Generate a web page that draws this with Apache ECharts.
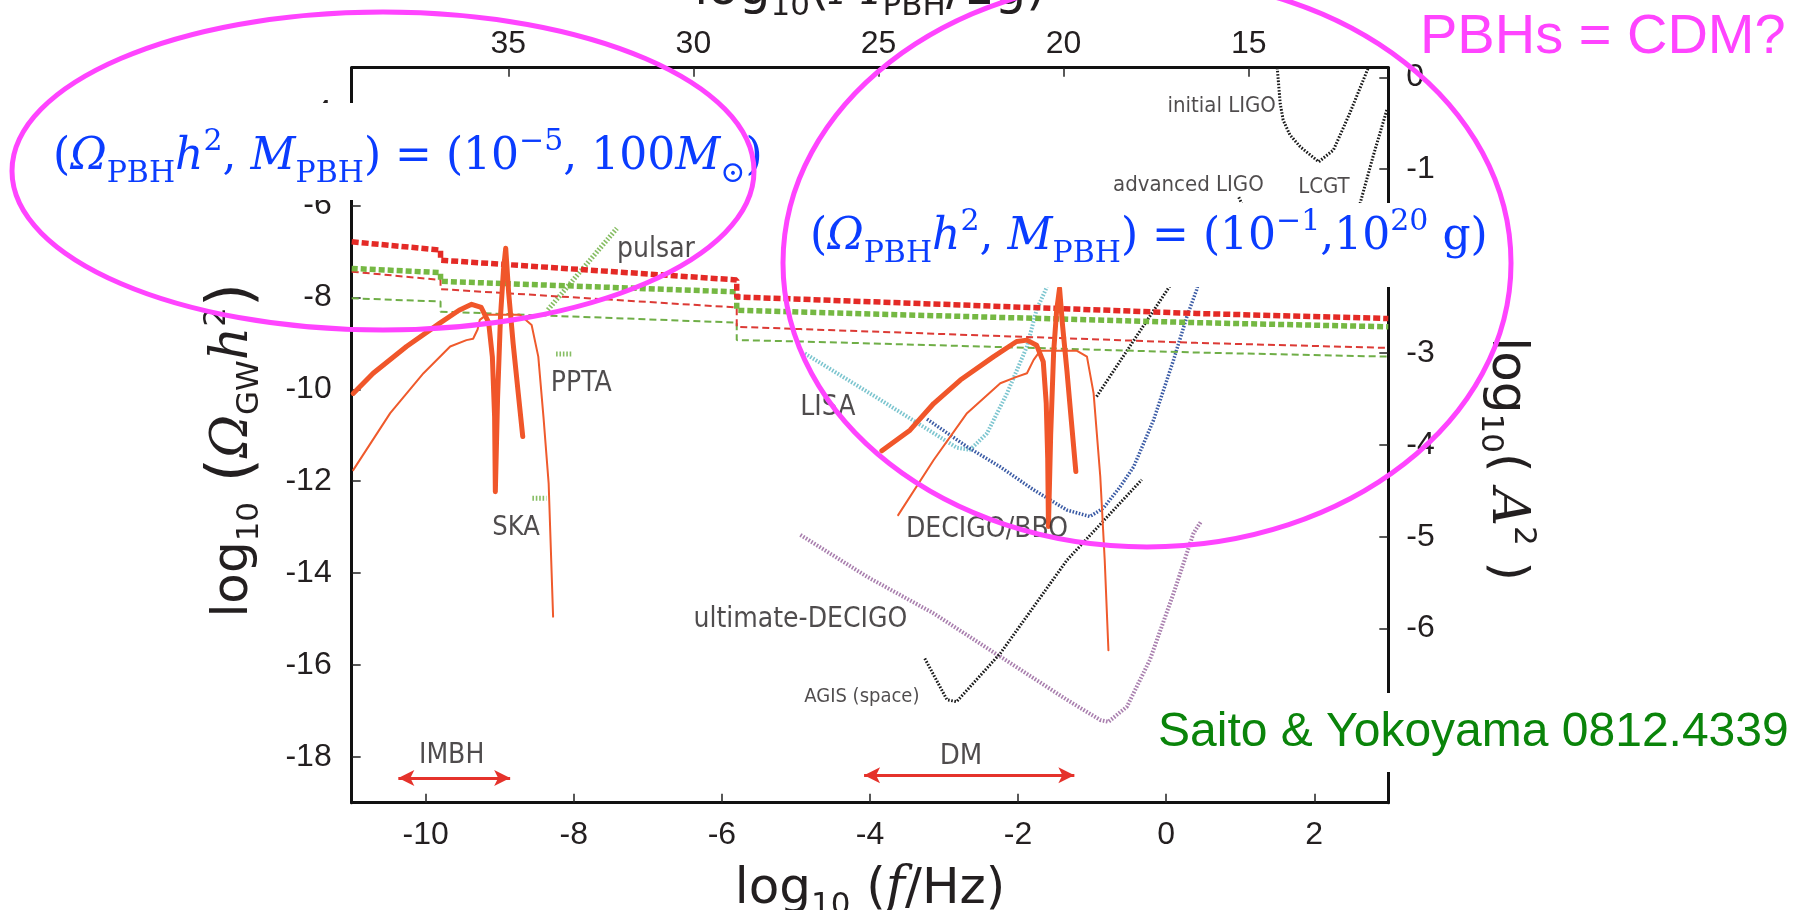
<!DOCTYPE html>
<html><head><meta charset="utf-8">
<script src="https://cdn.jsdelivr.net/npm/echarts@6/dist/echarts.min.js"></script>
<style>html,body{margin:0;padding:0;background:#fff}#c{width:1810px;height:910px}</style>
</head><body><div id="c"></div>
<script>
// ---------- tick labels ----------
const xTicks = [-10, -8, -6, -4, -2, 0, 2];
const yTicks = [-18, -16, -14, -12, -10, -8, -6, -4];
const a2Ticks = [0, -1, -2, -3, -4, -5, -6, -7];
const massTicks = [15, 20, 25, 30, 35];

// ---------- PBH upper bounds (step lines) ----------
const boundRedThick = [[-11,-6.79],[-9.8,-6.97],[-9.8,-7.19],[-5.8,-7.62],[-5.8,-7.99],[-4.94,-8.04],[0.41,-8.35],[3,-8.46]];
const boundGreenThick = [[-11,-7.37],[-9.8,-7.46],[-9.8,-7.65],[-5.8,-7.88],[-5.8,-8.28],[-4.94,-8.32],[0.41,-8.55],[3,-8.64]];
const boundRedThin = [[-11,-7.44],[-9.8,-7.62],[-9.8,-7.82],[-5.8,-8.22],[-5.8,-8.64],[-4.94,-8.69],[0.41,-8.99],[3,-9.1]];
const boundGreenThin = [[-11,-8.02],[-9.8,-8.09],[-9.8,-8.31],[-5.8,-8.55],[-5.8,-8.93],[-4.94,-8.96],[0.41,-9.2],[3,-9.29]];

// ---------- induced GW spectra ----------
const imbhThick = [[-10.98,-10.09],[-10.71,-9.65],[-10.26,-9.07],[-9.81,-8.56],[-9.55,-8.28],[-9.38,-8.15],[-9.25,-8.22],[-9.15,-8.55],[-9.1,-9.3],[-9.07,-10.6],[-9.06,-12.23],[-9.03,-10.2],[-8.99,-8.4],[-8.95,-7.4],[-8.92,-6.93],[-8.88,-7.9],[-8.82,-9.0],[-8.75,-10.1],[-8.69,-11.03]];
const imbhThin = [[-10.98,-11.76],[-10.48,-10.52],[-10.03,-9.65],[-9.67,-9.07],[-9.45,-8.93],[-9.36,-8.9],[-9.3,-8.7],[-9.27,-8.49],[-9.18,-8.38],[-8.73,-8.38],[-8.57,-8.6],[-8.48,-9.29],[-8.41,-10.6],[-8.34,-12.05],[-8.28,-14.95]];
const dmThick = [[-3.84,-11.34],[-3.46,-10.89],[-3.14,-10.31],[-2.78,-9.8],[-2.33,-9.29],[-2.02,-8.96],[-1.88,-8.93],[-1.75,-9.04],[-1.66,-9.4],[-1.62,-10.3],[-1.6,-11.5],[-1.59,-12.99],[-1.56,-11.0],[-1.52,-9.2],[-1.48,-8.3],[-1.44,-7.8],[-1.4,-8.6],[-1.34,-9.6],[-1.28,-10.7],[-1.22,-11.79]];
const dmThin = [[-3.62,-12.74],[-3.14,-11.54],[-2.69,-10.52],[-2.24,-9.87],[-2.02,-9.73],[-1.88,-9.65],[-1.79,-9.36],[-1.7,-9.16],[-1.21,-9.16],[-1.07,-9.29],[-0.98,-10.09],[-0.89,-11.9],[-0.83,-13.72],[-0.78,-15.68]];

// ---------- detector sensitivities ----------
const pulsar = [[-8.35,-8.27],[-7.42,-6.5]];
const ppta = [[-8.24,-9.23],[-8.01,-9.23]];
const ska = [[-8.56,-12.37],[-8.37,-12.37]];
const lisa = [[-4.88,-9.22],[-3.86,-10.23],[-2.83,-11.27],[-2.65,-11.32],[-2.42,-10.96],[-2.15,-10.09],[-1.88,-9.07],[-1.75,-8.27],[-1.61,-7.77]];
const decigoBbo = [[-3.23,-10.65],[-2.69,-11.25],[-2.24,-11.69],[-1.79,-12.19],[-1.34,-12.63],[-1.03,-12.77],[-0.85,-12.59],[-0.62,-12.12],[-0.44,-11.69],[-0.17,-10.67],[0.1,-9.36],[0.28,-8.42],[0.41,-7.84],[0.45,-7.6]];
const ultimateDecigo = [[-4.94,-13.17],[-4.04,-14.08],[-3.14,-14.88],[-2.24,-15.82],[-1.34,-16.76],[-0.89,-17.2],[-0.78,-17.24],[-0.53,-16.91],[-0.22,-15.89],[0.1,-14.44],[0.37,-13.13],[0.47,-12.88]];
const agisSpace = [[-3.26,-15.86],[-2.96,-16.76],[-2.83,-16.8],[-2.24,-15.75],[-1.34,-13.72],[-0.33,-11.97]];
const groundBranch = [[-0.94,-10.16],[0.03,-7.8],[0.15,-7.5]];
const initialLigo = [[1.5,-3.0],[1.54,-3.78],[1.58,-4.14],[1.67,-4.46],[1.81,-4.72],[2.06,-5.05],[2.26,-4.79],[2.48,-3.99],[2.73,-3.0]];
const advancedLigo = [[0.98,-5.82],[1.15,-6.4]];
const lcgt = [[2.98,-3.92],[2.8,-4.9],[2.62,-5.95],[2.55,-6.5]];

// ---------- ranges (arrows) ----------
const imbhRange = [-10.37, -8.86];
const imbhRangeLevel = -18.46;
const dmRange = [-4.08, -1.24];
const dmRangeLevel = -18.40;

// ---------- annotation labels ----------
const labelNames = ['pulsar','PPTA','SKA','LISA','DECIGO/BBO','ultimate-DECIGO','AGIS (space)','initial LIGO','advanced LIGO','LCGT','IMBH','DM'];
const labelAnchors = [[-6.89,-6.97],[-7.90,-9.87],[-8.78,-13.02],[-4.57,-10.41],[-2.42,-13.06],[-4.94,-15.02],[-4.11,-16.70],[0.75,-3.84],[0.30,-5.56],[2.13,-5.60],[-9.65,-17.98],[-2.77,-18.0]];

// ---------- axis relations ----------
const X_MIN = -11, X_MAX = 3, Y_MIN = -19, Y_MAX = -3;
const A2_ZERO_AT_OMEGA = -3.209;   // log Omega where log A^2 = 0 (Omega ~ A^2)
const F_AT_M35 = -8.885;           // log f where log M = 35 (f ~ M^-1/2)
const massOf = f => 35 - 2 * (f - F_AT_M35);

const labelColor = '#231f20';
const tickFont = { fontFamily: 'Liberation Sans, Arial, sans-serif', fontSize: 32, color: labelColor };
const axisLineStyle = { color: '#111', width: 3 };
const tickStyle = { color: '#222', width: 1.5 };

const nameRich = {
  a: { fontFamily: 'DejaVu Sans', fontSize: 50, color: labelColor, lineHeight: 64 },
  s: { fontFamily: 'DejaVu Sans', fontSize: 31, color: labelColor, lineHeight: 34, verticalAlign: 'bottom' },
  u: { fontFamily: 'DejaVu Sans', fontSize: 31, color: labelColor, lineHeight: 48, verticalAlign: 'top' },
  i: { fontFamily: 'DejaVu Serif', fontStyle: 'italic', fontSize: 52, color: labelColor, lineHeight: 64 },
  p: { fontFamily: 'DejaVu Sans', fontSize: 62, color: labelColor, lineHeight: 64 }
};

function dotted(name, data, color, width, dash, z) {
  return { name, type: 'line', data, symbol: 'none', silent: true, z: z || 2,
    lineStyle: { color, width, type: dash, cap: 'butt' } };
}
function solid(name, data, color, width) {
  return { name, type: 'line', data, symbol: 'none', silent: true, z: 4,
    lineStyle: { color, width, cap: 'round', join: 'round' } };
}

const series = [
  dotted('pulsar', pulsar, '#86bd63', 5, [1.6, 1.8]),
  dotted('PPTA', ppta, '#86bd63', 5, [1.6, 1.8]),
  dotted('SKA', ska, '#86bd63', 5, [1.6, 1.8]),
  dotted('LISA', lisa, '#7cc5cf', 4, [1.6, 1.6]),
  dotted('DECIGO/BBO', decigoBbo, '#3b5ba5', 3.5, [1.6, 1.6]),
  dotted('ultimate-DECIGO', ultimateDecigo, '#a97fae', 4, [1.6, 1.6]),
  dotted('AGIS (space)', agisSpace, '#1a1a1a', 3, [1.6, 1.6]),
  dotted('ground', groundBranch, '#1a1a1a', 3, [1.6, 1.6]),
  dotted('initial LIGO', initialLigo, '#1a1a1a', 3, [1.6, 1.6]),
  dotted('advanced LIGO', advancedLigo, '#1a1a1a', 3, [1.6, 1.6]),
  dotted('LCGT', lcgt, '#1a1a1a', 3, [1.6, 1.6]),
  dotted('bound thin green', boundGreenThin, '#6fae47', 2, [7, 4], 3),
  dotted('bound thin red', boundRedThin, '#dc3a35', 2, [7, 4], 3),
  dotted('bound thick green', boundGreenThick, '#75b843', 5.5, [6, 3], 3),
  dotted('bound thick red', boundRedThick, '#e42a26', 5.5, [7, 3], 3),
  solid('IMBH thin', imbhThin, '#ef5a2c', 2),
  solid('IMBH thick', imbhThick, '#f0562a', 5),
  solid('DM thin', dmThin, '#ef5a2c', 2),
  solid('DM thick', dmThick, '#f0562a', 5),
  {
    name: 'ranges', type: 'line', data: [[imbhRange[0], imbhRangeLevel]], symbol: 'none', silent: true,
    lineStyle: { opacity: 0 },
    markLine: {
      silent: true, symbol: ['arrow', 'arrow'], symbolSize: [12, 16], label: { show: false },
      lineStyle: { color: '#e5322b', width: 3, type: 'solid' },
      data: [
        [{ coord: [imbhRange[0], imbhRangeLevel] }, { coord: [imbhRange[1], imbhRangeLevel] }],
        [{ coord: [dmRange[0], dmRangeLevel] }, { coord: [dmRange[1], dmRangeLevel] }]
      ]
    }
  },
  {
    name: 'labels', type: 'scatter', symbolSize: 0, silent: true, z: 6,
    data: labelNames.map((n, i) => ({ name: n, value: labelAnchors[i],
      label: { fontSize: [28, 28, 27, 28, 28, 28, 20, 22, 22, 22, 28, 29][i] } })),
    label: { show: true, position: 'inside', formatter: '{b}', color: labelColor,
      fontFamily: 'DejaVu Sans Condensed, DejaVu Sans, sans-serif' }
  }
];

const blue = '#0a3cff';
const fRich = {
  n: { fontFamily: 'DejaVu Serif', fontSize: 44, fill: blue, lineHeight: 62 },
  i: { fontFamily: 'DejaVu Serif', fontStyle: 'italic', fontSize: 44, fill: blue, lineHeight: 62 },
  b: { fontFamily: 'DejaVu Serif', fontSize: 30, fill: blue, lineHeight: 31, verticalAlign: 'bottom' },
  t: { fontFamily: 'DejaVu Serif', fontSize: 30, fill: blue, lineHeight: 41, verticalAlign: 'top' }
};

const graphic = [
  { type: 'rect', z: 50, shape: { x: 40, y: 103, width: 735, height: 97 }, style: { fill: '#fff' } },
  { type: 'text', z: 51, x: 53, y: 158, style: {
      text: '{n|(}{i|Ω}{b|PBH}{i|h}{t|2}{n|, }{i|M}{b|PBH}{n|) = (10}{t|−5}{n|, 100}{i|M}{b|⊙}{n|)}',
      rich: fRich, verticalAlign: 'middle', align: 'left' } },
  { type: 'rect', z: 50, shape: { x: 795, y: 203, width: 700, height: 84 }, style: { fill: '#fff' } },
  { type: 'text', z: 51, x: 810, y: 238, style: {
      text: '{n|(}{i|Ω}{b|PBH}{i|h}{t|2}{n|, }{i|M}{b|PBH}{n|) = (10}{t|−1}{n|,10}{t|20}{n| g)}',
      rich: fRich, verticalAlign: 'middle', align: 'left' } },
  { type: 'rect', z: 50, shape: { x: 1150, y: 693, width: 660, height: 79 }, style: { fill: '#fff' } },
  { type: 'text', z: 51, x: 1158, y: 733, style: { text: 'Saito & Yokoyama 0812.4339',
      font: '48px "Liberation Sans", Arial, sans-serif', fill: '#0a840a', verticalAlign: 'middle', align: 'left' } },
  { type: 'text', z: 51, x: 1420, y: 38, style: { text: 'PBHs = CDM?',
      font: '56px "Liberation Sans", Arial, sans-serif', fill: '#ff44ff', verticalAlign: 'middle', align: 'left' } },
  { type: 'ellipse', z: 60, shape: { cx: 383, cy: 171, rx: 371, ry: 159 }, style: { fill: 'none', stroke: '#ff44ff', lineWidth: 5 } },
  { type: 'ellipse', z: 60, shape: { cx: 1147, cy: 263, rx: 364, ry: 284 }, style: { fill: 'none', stroke: '#ff44ff', lineWidth: 5 } }
];

const chart = echarts.init(document.getElementById('c'), null, { renderer: 'canvas', width: 1810, height: 910 });
chart.setOption({
  backgroundColor: '#fff',
  animation: false,
  grid: { left: 351.7, right: 421.7, top: 67.7, bottom: 107.3, containLabel: false, outerBoundsMode: 'none' },
  xAxis: [
    { type: 'value', position: 'bottom', min: X_MIN, max: X_MAX,
      axisLine: { onZero: false, lineStyle: axisLineStyle },
      axisTick: { inside: true, length: 9, lineStyle: tickStyle, customValues: xTicks },
      axisLabel: Object.assign({ margin: 16, customValues: xTicks }, tickFont),
      splitLine: { show: false },
      name: '{a|log}{s|10}{a| (}{i|f}{a|/Hz)}', nameLocation: 'middle', nameGap: 55,
      nameTextStyle: { rich: nameRich } },
    { type: 'value', position: 'top', inverse: true, min: massOf(X_MAX), max: massOf(X_MIN),
      axisLine: { onZero: false, lineStyle: axisLineStyle },
      axisTick: { inside: true, length: 9, lineStyle: tickStyle, customValues: massTicks },
      axisLabel: Object.assign({ margin: 8, customValues: massTicks }, tickFont),
      splitLine: { show: false },
      name: '{a|log}{s|10}{a|(}{i|M}{s|PBH}{a|/1g)}', nameLocation: 'middle', nameGap: 40,
      nameTextStyle: { rich: nameRich } }
  ],
  yAxis: [
    { type: 'value', position: 'left', min: Y_MIN, max: Y_MAX,
      axisLine: { onZero: false, lineStyle: axisLineStyle },
      axisTick: { inside: true, length: 9, lineStyle: tickStyle, customValues: yTicks },
      axisLabel: Object.assign({ margin: 20, customValues: yTicks }, tickFont),
      splitLine: { show: false },
      name: '{a|log}{s|10}{p| (}{i|Ω}{s|GW}{i|h}{u|2}{p|)}', nameLocation: 'middle', nameGap: 86, nameRotate: 90,
      nameTextStyle: { rich: nameRich, padding: [0, 30, 0, 0] } },
    { type: 'value', position: 'right',
      min: (Y_MIN - A2_ZERO_AT_OMEGA) / 2, max: (Y_MAX - A2_ZERO_AT_OMEGA) / 2,
      axisLine: { onZero: false, lineStyle: axisLineStyle },
      axisTick: { inside: true, length: 9, lineStyle: tickStyle, customValues: a2Ticks },
      axisLabel: Object.assign({ margin: 18, customValues: a2Ticks }, tickFont),
      splitLine: { show: false },
      name: '{a|log}{s|10}{a|( }{i|A}{u|2}{a| )}', nameLocation: 'middle', nameGap: 86, nameRotate: -90,
      nameTextStyle: { rich: nameRich, padding: [0, 0, 0, 48] } }
  ],
  series,
  graphic
});
</script></body></html>
